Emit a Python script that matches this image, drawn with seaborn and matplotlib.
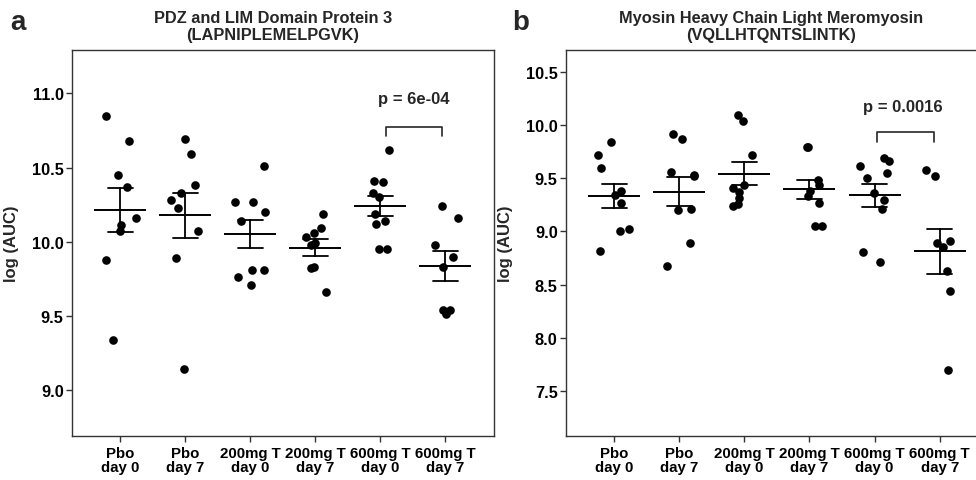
import numpy as np
import pandas as pd
import matplotlib
matplotlib.use("Agg")
import matplotlib.pyplot as plt
import seaborn as sns

# groups on the x axis
groups = ["Pbo\nday 0", "Pbo\nday 7", "200mg T\nday 0", "200mg T\nday 7",
          "600mg T\nday 0", "600mg T\nday 7"]

# panel a: PDZ and LIM Domain Protein 3, log(AUC) per subject
pdz_pbo_d0 = [10.85, 10.68, 10.45, 10.37, 10.16, 10.11, 10.07, 9.88, 9.34]
pdz_pbo_d7 = [10.69, 10.59, 10.38, 10.33, 10.28, 10.23, 10.07, 9.89, 9.14]
pdz_200_d0 = [10.51, 10.27, 10.27, 10.20, 10.14, 9.81, 9.81, 9.76, 9.71]
pdz_200_d7 = [10.19, 10.09, 10.06, 10.03, 9.99, 9.98, 9.83, 9.82, 9.66]
pdz_600_d0 = [10.62, 10.41, 10.40, 10.33, 10.30, 10.19, 10.14, 10.12, 9.95, 9.95]
pdz_600_d7 = [10.24, 10.16, 9.98, 9.90, 9.83, 9.54, 9.54, 9.51]

# panel b: Myosin Heavy Chain Light Meromyosin, log(AUC) per subject
myo_pbo_d0 = [9.84, 9.72, 9.60, 9.38, 9.34, 9.27, 9.02, 9.00, 8.82]
myo_pbo_d7 = [9.91, 9.87, 9.56, 9.53, 9.52, 9.21, 9.20, 8.89, 8.68]
myo_200_d0 = [10.09, 10.04, 9.72, 9.44, 9.41, 9.37, 9.31, 9.26, 9.24]
myo_200_d7 = [9.79, 9.79, 9.48, 9.44, 9.38, 9.33, 9.27, 9.05, 9.05]
myo_600_d0 = [9.69, 9.66, 9.61, 9.55, 9.50, 9.36, 9.30, 9.21, 8.81, 8.71]
myo_600_d7 = [9.58, 9.52, 8.91, 8.89, 8.85, 8.63, 8.44, 7.70]

pdz_vals = [pdz_pbo_d0, pdz_pbo_d7, pdz_200_d0, pdz_200_d7, pdz_600_d0, pdz_600_d7]
myo_vals = [myo_pbo_d0, myo_pbo_d7, myo_200_d0, myo_200_d7, myo_600_d0, myo_600_d7]


def to_long(vals):
    return pd.DataFrame({
        "group": np.repeat(groups, [len(v) for v in vals]),
        "value": np.concatenate(vals),
    })


df_pdz = to_long(pdz_vals)
df_myo = to_long(myo_vals)

sns.set_style("ticks")
plt.rcParams["font.family"] = ["Liberation Sans", "DejaVu Sans"]
plt.rcParams["font.weight"] = "bold"
plt.rcParams["axes.edgecolor"] = "0.2"
plt.rcParams["xtick.color"] = "0.2"
plt.rcParams["ytick.color"] = "0.2"
plt.rcParams["xtick.labelcolor"] = "black"
plt.rcParams["ytick.labelcolor"] = "black"

np.random.seed(7)

fig = plt.figure(figsize=(9.76, 4.81), dpi=100)
ax1 = fig.add_axes([0.0738, 0.091, 0.4324, 0.8025])
ax2 = fig.add_axes([0.5799, 0.091, 0.4329, 0.8025])


def draw_panel(ax, df, title, yticks, ylim, title_x):
    sns.stripplot(data=df, x="group", y="value", order=groups, color="black",
                  size=6.2, jitter=0.25, linewidth=0, ax=ax, zorder=2)
    sns.pointplot(data=df, x="group", y="value", order=groups, errorbar="se",
                  capsize=0.38, color="black", marker="_", markersize=37,
                  markeredgewidth=1.4, linestyle="none",
                  err_kws={"linewidth": 1.3}, ax=ax, zorder=3)
    ax.set_xlim(-0.74, 5.75)
    ax.set_ylim(*ylim)
    ax.set_yticks(yticks)
    ax.set_yticklabels([f"{t:.1f}" for t in yticks])
    ax.set_xlabel("")
    ax.set_ylabel("log (AUC)", fontsize=12, fontweight="bold")
    ax.yaxis.set_label_coords(-0.125, 0.5)
    ax.set_title(title, fontsize=11.8, fontweight="bold", x=title_x, pad=8)
    ax.tick_params(axis="y", length=4, width=1, pad=2, labelsize=11.8)
    ax.tick_params(axis="x", length=4, width=1, pad=3, labelsize=10.8)
    for lab in ax.get_xticklabels():
        lab.set_linespacing(1.0)
    for s in ax.spines.values():
        s.set_linewidth(1.0)


draw_panel(ax1, df_pdz, "PDZ and LIM Domain Protein 3\n(LAPNIPLEMELPGVK)",
           [9.0, 9.5, 10.0, 10.5, 11.0], (8.69, 11.29), 0.476)
draw_panel(ax2, df_myo, "Myosin Heavy Chain Light Meromyosin\n(VQLLHTQNTSLINTK)",
           [7.5, 8.0, 8.5, 9.0, 9.5, 10.0, 10.5], (7.08, 10.70), 0.486)

# significance brackets
ax1.plot([4.09, 4.09, 4.95, 4.95], [10.71, 10.775, 10.775, 10.71], color="0.15", lw=1.2)
ax1.text(4.52, 10.965, "p = 6e-04", ha="center", va="center", fontsize=12, fontweight="bold")
ax2.plot([4.03, 4.03, 4.91, 4.91], [9.835, 9.933, 9.933, 9.835], color="0.15", lw=1.2)
ax2.text(4.43, 10.175, "p = 0.0016", ha="center", va="center", fontsize=12, fontweight="bold")

fig.text(0.010, 0.938, "a", fontsize=20, fontweight="bold")
fig.text(0.525, 0.938, "b", fontsize=20, fontweight="bold")

fig.savefig("out.png", dpi=100)
